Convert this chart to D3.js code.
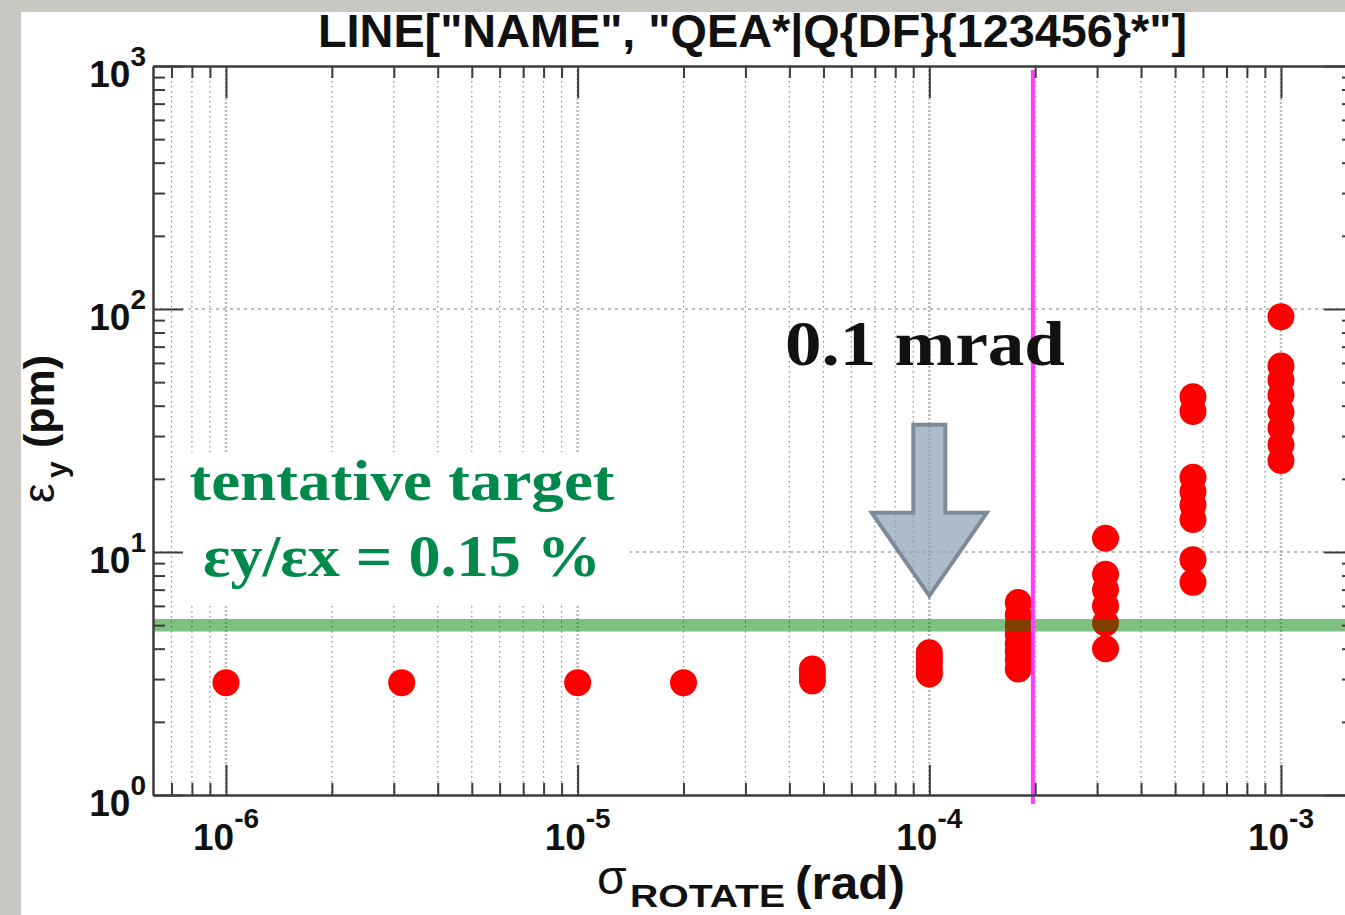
<!DOCTYPE html>
<html>
<head>
<meta charset="utf-8">
<script src="https://cdn.jsdelivr.net/npm/d3@7"></script>
<style>
  html, body { margin: 0; padding: 0; background: #c9c7c2; overflow: hidden; }
  svg { display: block; }
</style>
</head>
<body>
<svg id="chart" width="1345" height="915"></svg>
<script>
// Rotation error sigma (rad) for each scan step
const sigmaRotate = [1e-6, 3.16e-6, 1e-5, 2e-5, 4.65e-5, 1e-4, 1.79e-4, 3.17e-4, 5.62e-4, 1e-3];

// Vertical emittance (pm) of each seed at the matching sigma
const emittanceY = [
  [2.9],
  [2.9],
  [2.9],
  [2.9],
  [2.95, 3.1, 3.3],
  [3.15, 3.3, 3.5, 3.65, 3.85],
  [3.3, 3.6, 3.9, 4.2, 4.6, 5.0, 5.5, 6.2],
  [4.0, 5.1, 6.0, 7.0, 8.1, 11.4],
  [7.5, 9.3, 13.6, 15.6, 17.7, 20.3, 37.9, 43.5],
  [23.8, 27.6, 32.4, 37.7, 44.3, 51.0, 58.2, 93.0]
];

const targetEmittance = 5;      // pm, eps_y/eps_x = 0.15 %
const sigmaMarker = 1.97e-4;    // rad, vertical marker
const arrowTarget = [1e-4, 6.6];

const xDecadeExponents = [-6, -5, -4, -3];
const yDecadeExponents = [0, 1, 2, 3];

const titleText = 'LINE["NAME", "QEA*|Q{DF}{123456}*"]';

// ---------------------------------------------------------------------------
const W = 1345, H = 915;
const plot = { left: 153, right: 1354, top: 66, bottom: 795 };

const svg = d3.select("#chart");

const x = d3.scaleLog().domain([6.2e-7, 1.613e-3]).range([plot.left, plot.right]);
const y = d3.scaleLog().domain([1, 1000]).range([plot.bottom, plot.top]);

function decadeTicks(lo, hi) {
  const t = [];
  for (let e = lo; e <= hi; e++) for (let m = 1; m <= 9; m++) t.push(m * Math.pow(10, e));
  return t;
}
const isMajor = (v, majors) => majors.some(m => Math.abs(m - v) / m < 1e-9);

const xMajor = xDecadeExponents.map(e => Math.pow(10, e));
const yMajor = yDecadeExponents.map(e => Math.pow(10, e));
const [xd0, xd1] = x.domain();
const xAll = decadeTicks(-7, -3).filter(v => v >= xd0 && v <= xd1);
const xMinor = xAll.filter(v => !isMajor(v, xMajor));
const yMinor = decadeTicks(0, 2).filter(v => !isMajor(v, yMajor));

// panel
svg.append("rect").attr("x", 0).attr("y", 0).attr("width", W).attr("height", H).attr("fill", "#c9c7c2");
svg.append("rect").attr("x", 21).attr("y", 12).attr("width", W - 21).attr("height", H - 12).attr("fill", "#fff");

svg.append("clipPath").attr("id", "plotClip")
  .append("rect").attr("x", plot.left).attr("y", plot.top)
  .attr("width", plot.right - plot.left).attr("height", plot.bottom - plot.top);

const grid = svg.append("g").attr("clip-path", "url(#plotClip)");

// vertical grid: minor and decade lines
grid.selectAll("line.vminor").data(xMinor).join("line")
  .attr("x1", d => x(d)).attr("x2", d => x(d))
  .attr("y1", plot.top).attr("y2", plot.bottom)
  .attr("stroke", "#8c8c8c").attr("stroke-width", 1.2).attr("stroke-dasharray", "1.5,3.5");
grid.selectAll("line.vmajor").data(xMajor).join("line")
  .attr("x1", d => x(d)).attr("x2", d => x(d))
  .attr("y1", plot.top).attr("y2", plot.bottom)
  .attr("stroke", "#b8b8b8").attr("stroke-width", 2.5).attr("stroke-dasharray", "2,2");

// horizontal grid at decades
grid.selectAll("line.hmajor").data(yMajor.slice(1, 3)).join("line")
  .attr("x1", plot.left).attr("x2", plot.right)
  .attr("y1", d => y(d)).attr("y2", d => y(d))
  .attr("stroke", "#a8a8a8").attr("stroke-width", 1.5).attr("stroke-dasharray", "3,4");

// white backing behind the target annotation
svg.append("rect").attr("x", 180).attr("y", 452).attr("width", 450).attr("height", 152).attr("fill", "#fff");

// scatter points
const points = sigmaRotate.flatMap((s, i) => emittanceY[i].map(e => ({ s, e })));
grid.selectAll("circle.pt").data(points).join("circle")
  .attr("cx", d => x(d.s)).attr("cy", d => y(d.e)).attr("r", 13.5)
  .attr("fill", "#ff0000");

// target emittance band
svg.append("line")
  .attr("x1", plot.left).attr("x2", W)
  .attr("y1", y(targetEmittance)).attr("y2", y(targetEmittance))
  .attr("stroke", "#008000").attr("stroke-opacity", 0.5).attr("stroke-width", 12.5);

// marker line
svg.append("line")
  .attr("x1", x(sigmaMarker)).attr("x2", x(sigmaMarker))
  .attr("y1", 70).attr("y2", 804)
  .attr("stroke", "#ff3cff").attr("stroke-width", 4);

// arrow pointing to 0.1 mrad
{
  const tx = x(arrowTarget[0]), ty = y(arrowTarget[1]);
  const sw = 16, hw = 57.5, hl = 83, len = 171;
  const p = d3.path();
  p.moveTo(tx - sw, ty - len);
  p.lineTo(tx + sw, ty - len);
  p.lineTo(tx + sw, ty - hl);
  p.lineTo(tx + hw, ty - hl);
  p.lineTo(tx, ty);
  p.lineTo(tx - hw, ty - hl);
  p.lineTo(tx - sw, ty - hl);
  p.closePath();
  svg.append("path").attr("d", p.toString())
    .attr("fill", "rgb(140,160,180)").attr("fill-opacity", 0.7)
    .attr("stroke", "#7d8a98").attr("stroke-width", 4).attr("stroke-linejoin", "miter");
}

// annotations
svg.append("text").attr("x", 785).attr("y", 365)
  .attr("font-family", "'Liberation Serif', 'DejaVu Serif', serif").attr("font-weight", "bold")
  .attr("font-size", 64).attr("fill", "#111")
  .attr("textLength", 280).attr("lengthAdjust", "spacingAndGlyphs")
  .text("0.1 mrad");

svg.append("text").attr("x", 402).attr("y", 500).attr("text-anchor", "middle")
  .attr("font-family", "'Liberation Serif', 'DejaVu Serif', serif").attr("font-weight", "bold")
  .attr("font-size", 58).attr("fill", "#00894a")
  .attr("textLength", 425).attr("lengthAdjust", "spacingAndGlyphs")
  .text("tentative target");

svg.append("text").attr("x", 402).attr("y", 576).attr("text-anchor", "middle")
  .attr("font-family", "'Liberation Serif', 'DejaVu Serif', serif").attr("font-weight", "bold")
  .attr("font-size", 60).attr("fill", "#00894a")
  .attr("textLength", 398).attr("lengthAdjust", "spacingAndGlyphs")
  .text("εy/εx = 0.15 %");

// axes (ticks pointing inward)
const axisColor = "#3c3c3c";
function styleAxis(g) {
  g.selectAll(".domain").attr("stroke", axisColor).attr("stroke-width", 2);
  g.selectAll(".tick line").attr("stroke", axisColor).attr("stroke-width", 2);
  g.selectAll(".tick text").remove();
}
function addAxis(axisFn, scale, values, size, transform) {
  const g = svg.append("g").attr("transform", transform)
    .call(axisFn(scale).tickValues(values).tickSize(-size).tickSizeOuter(0).tickFormat(""));
  styleAxis(g);
  return g;
}
addAxis(d3.axisBottom, x, xMinor, 12, `translate(0,${plot.bottom})`);
addAxis(d3.axisBottom, x, xMajor, 30, `translate(0,${plot.bottom})`);
addAxis(d3.axisTop, x, xMinor, 12, `translate(0,${plot.top})`);
addAxis(d3.axisTop, x, xMajor, 32, `translate(0,${plot.top})`);
addAxis(d3.axisLeft, y, yMinor, 12, `translate(${plot.left},0)`);
addAxis(d3.axisLeft, y, yMajor, 30, `translate(${plot.left},0)`);
addAxis(d3.axisRight, y, yMinor, 12, `translate(${plot.right},0)`);
addAxis(d3.axisRight, y, yMajor, 30, `translate(${plot.right},0)`);

// tick labels as powers of ten
const labelFont = "'Liberation Sans', Arial, Helvetica, sans-serif";
xDecadeExponents.forEach(e => {
  const t = svg.append("text").attr("x", x(Math.pow(10, e))).attr("y", plot.bottom + 55)
    .attr("text-anchor", "middle").attr("font-family", labelFont).attr("font-weight", "bold")
    .attr("font-size", 37).attr("fill", "#111");
  t.append("tspan").text("10");
  t.append("tspan").attr("font-size", 28).attr("dy", -22).text(String(e));
});
yDecadeExponents.forEach(e => {
  const t = svg.append("text").attr("x", 146).attr("y", y(Math.pow(10, e)) + 21)
    .attr("text-anchor", "end").attr("font-family", labelFont).attr("font-weight", "bold")
    .attr("font-size", 37).attr("fill", "#111");
  t.append("tspan").text("10");
  t.append("tspan").attr("font-size", 28).attr("dy", -21).text(String(e));
});

// axis titles
{
  const t = svg.append("text").attr("y", 894).attr("font-family", labelFont).attr("fill", "#111");
  t.append("tspan").attr("x", 597).attr("font-size", 48).text("σ");
  t.append("tspan").attr("x", 630).attr("dy", 13).attr("font-size", 32).attr("font-weight", "bold")
    .attr("textLength", 155).attr("lengthAdjust", "spacingAndGlyphs").text("ROTATE");
  t.append("tspan").attr("x", 795).attr("dy", -8).attr("font-size", 46).attr("font-weight", "bold")
    .attr("textLength", 110).attr("lengthAdjust", "spacingAndGlyphs").text("(rad)");
}
{
  const t = svg.append("text").attr("transform", "translate(54,503) rotate(-90)")
    .attr("font-family", labelFont).attr("fill", "#111");
  t.append("tspan").attr("x", 0).attr("y", 0).attr("font-size", 44).text("ε");
  t.append("tspan").attr("x", 25).attr("y", 13).attr("font-size", 30).attr("font-weight", "bold").text("y");
  t.append("tspan").attr("x", 55).attr("y", 0).attr("font-size", 43).attr("font-weight", "bold")
    .attr("textLength", 93).attr("lengthAdjust", "spacingAndGlyphs").text("(pm)");
}

// title
svg.append("text").attr("x", 752.5).attr("y", 47).attr("text-anchor", "middle")
  .attr("font-family", labelFont).attr("font-weight", "bold").attr("font-size", 46).attr("fill", "#111")
  .attr("textLength", 869).attr("lengthAdjust", "spacingAndGlyphs")
  .text(titleText);

// outer frame strips
svg.append("rect").attr("x", 0).attr("y", 0).attr("width", W).attr("height", 12).attr("fill", "#c9c7c2");
svg.append("rect").attr("x", 0).attr("y", 0).attr("width", 21).attr("height", H).attr("fill", "#c9c7c2");
</script>
</body>
</html>
